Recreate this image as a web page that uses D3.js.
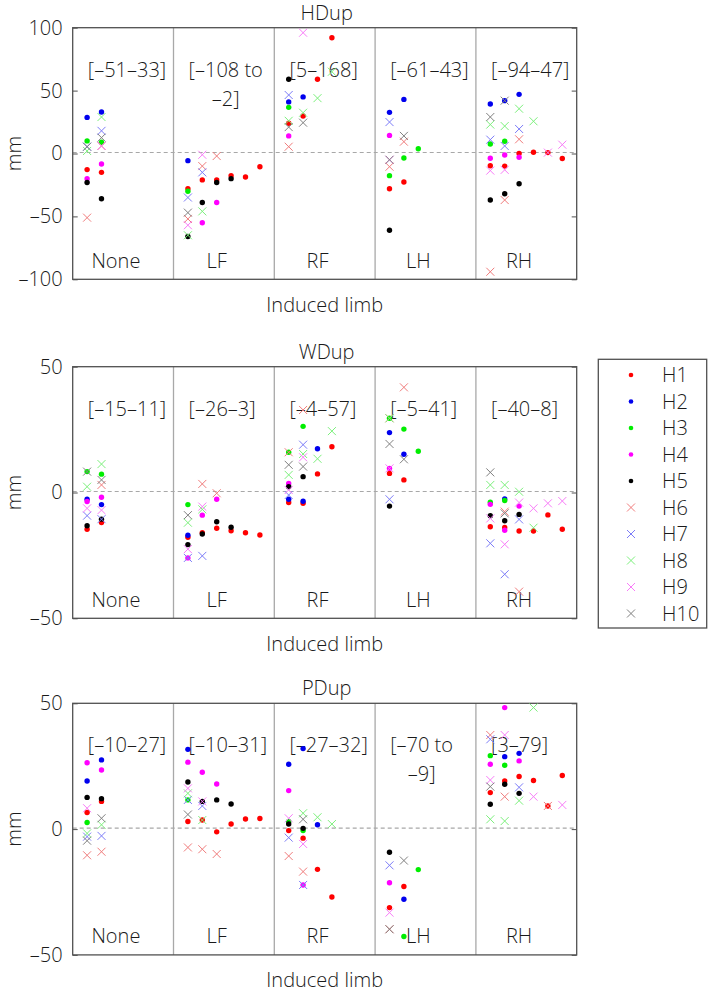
<!DOCTYPE html>
<html><head><meta charset="utf-8">
<script src="https://cdn.jsdelivr.net/npm/d3@7"></script>
<style>body{margin:0;background:#fff} text{font-family:"Open Sans",sans-serif;font-weight:300;fill:#1a1a1a}</style>
</head><body><svg id="c" width="709" height="995"></svg>
<script>
const groups = ["None","LF","RF","LH","RH"];
const horses = ["H1","H2","H3","H4","H5","H6","H7","H8","H9","H10"];
const horseColors = ["#ff0000","#0000ee","#00ee00","#ff00ff","#000000","#f07c7c","#7c7cf8","#7cf07c","#f87cf8","#808080"];
const horseShapes = ["dot","dot","dot","dot","dot","cross","cross","cross","cross","cross"];
const hdupTicks = [-100,-50,0,50,100];
const dupTicks = [-50,0,50];
const hdupRanges = ["[–51–33]","[–108 to\n–2]","[5–168]","[–61–43]","[–94–47]"];
const wdupRanges = ["[–15–11]","[–26–3]","[–4–57]","[–5–41]","[–40–8]"];
const pdupRanges = ["[–10–27]","[–10–31]","[–27–32]","[–70 to\n–9]","[3–79]"];

// rows: [horse, induced limb, trial slot, value in mm]
const hdupData = [
["H1","None",1,-12.8],["H1","None",2,-15],["H1","LF",1,-28],["H1","LF",2,-21],["H1","LF",3,-21],["H1","LF",4,-17.6],["H1","LF",5,-18.7],["H1","LF",6,-10.5],["H1","RF",1,24],["H1","RF",2,29.8],["H1","RF",3,59],["H1","RF",4,92],["H1","LH",1,-28],["H1","LH",2,-22.6],["H1","RH",1,-9.7],["H1","RH",2,-10],["H1","RH",3,0],["H1","RH",4,1],["H1","RH",5,0.7],["H1","RH",6,-4],
["H2","None",1,28.7],["H2","None",2,33],["H2","LF",1,-5.7],["H2","RF",1,41],["H2","RF",2,45],["H2","LH",1,32.7],["H2","LH",2,43],["H2","RH",1,39.3],["H2","RH",2,42],["H2","RH",3,47],
["H3","None",1,10],["H3","None",2,9],["H3","LF",1,-30],["H3","RF",1,36.7],["H3","LH",1,-17.6],["H3","LH",2,-3.6],["H3","LH",3,3.8],["H3","RH",1,7.5],["H3","RH",2,9.7],
["H4","None",1,-20],["H4","None",2,-8.3],["H4","LF",2,-55],["H4","LF",3,-39],["H4","RF",1,14],["H4","LH",1,14.4],["H4","RH",1,-3.8],["H4","RH",2,-1.2],["H4","RH",3,-3],
["H5","None",1,-23],["H5","None",2,-36],["H5","LF",1,-66],["H5","LF",2,-39],["H5","LF",3,-23],["H5","LF",4,-20],["H5","RF",1,59],["H5","LH",1,-61],["H5","RH",1,-37],["H5","RH",2,-32],["H5","RH",3,-24],
["H6","None",1,-51],["H6","None",2,6],["H6","LF",1,-52],["H6","LF",2,-10],["H6","LF",3,-2],["H6","RF",1,5.4],["H6","LH",1,-10.5],["H6","LH",2,9.4],["H6","RH",1,-94],["H6","RH",2,-37],["H6","RH",3,11.3],
["H7","None",1,5.4],["H7","None",2,18],["H7","LF",1,-35],["H7","LF",2,-15],["H7","RF",1,46.5],["H7","LH",1,25],["H7","RH",1,11],["H7","RH",2,6],["H7","RH",3,19.5],
["H8","None",1,2],["H8","None",2,29],["H8","LF",1,-65],["H8","LF",2,-46],["H8","RF",1,26],["H8","RF",2,32.4],["H8","RF",3,44],["H8","RF",4,65],["H8","RH",1,23],["H8","RH",2,21.8],["H8","RH",3,35.6],["H8","RH",4,25.6],
["H9","None",2,6],["H9","LF",1,-57],["H9","LF",2,-1],["H9","RF",2,96],["H9","LH",1,-5],["H9","RH",1,-13.6],["H9","RH",2,-13],["H9","RH",5,0.7],["H9","RH",6,7],
["H10","None",1,5.4],["H10","None",2,12.6],["H10","LF",1,-47],["H10","RF",1,21],["H10","RF",2,24.5],["H10","LH",1,-5],["H10","LH",2,14],["H10","RH",1,29],["H10","RH",2,42]
];
const wdupData = [
["H1","None",1,-14.6],["H1","None",2,-11.9],["H1","LF",1,-17.8],["H1","LF",2,-16],["H1","LF",3,-14.2],["H1","LF",4,-15.2],["H1","LF",5,-16],["H1","LF",6,-16.9],["H1","RF",1,-4],["H1","RF",2,-4.3],["H1","RF",3,7.4],["H1","RF",4,18.2],["H1","LH",1,7.6],["H1","LH",2,5],["H1","RH",1,-13.6],["H1","RH",2,-13.9],["H1","RH",3,-15.3],["H1","RH",4,-15.3],["H1","RH",5,-8.9],["H1","RH",6,-14.6],
["H2","None",1,-2.7],["H2","None",2,-4.8],["H2","LF",1,-17],["H2","RF",1,-2.7],["H2","RF",2,-3.5],["H2","RF",3,17.4],["H2","LH",1,23.8],["H2","LH",2,15.2],["H2","RH",2,-2.6],
["H3","None",1,8.3],["H3","None",2,7.3],["H3","LF",1,-4.8],["H3","RF",1,16],["H3","RF",2,26.3],["H3","LH",1,29.5],["H3","LH",2,25.2],["H3","LH",3,16.4],["H3","RH",1,-3.9],["H3","RH",2,-3.2],
["H4","None",1,-3.6],["H4","None",2,-1.9],["H4","LF",1,-26],["H4","LF",2,-9],["H4","LF",3,-2.7],["H4","RF",1,3.6],["H4","LH",1,9.6],["H4","RH",1,-4.7],["H4","RH",2,-15],["H4","RH",3,-5.4],
["H5","None",1,-13.2],["H5","None",2,-10.6],["H5","LF",1,-20.7],["H5","LF",2,-16.5],["H5","LF",3,-11.6],["H5","LF",4,-13.8],["H5","RF",1,2.3],["H5","RF",2,6.3],["H5","LH",1,-5.4],["H5","RH",1,-9.2],["H5","RH",2,-11.2],["H5","RH",3,-8.7],
["H6","None",2,3],["H6","LF",2,3.4],["H6","LF",3,-0.3],["H6","RF",1,16],["H6","RF",2,32.8],["H6","LH",1,29.5],["H6","LH",2,41.8],["H6","RH",2,-7.6],["H6","RH",3,-39.4],
["H7","None",1,-9.2],["H7","None",2,-10.6],["H7","LF",1,-26],["H7","LF",2,-25.2],["H7","RF",1,-1],["H7","RF",2,19],["H7","LH",1,-2.7],["H7","RH",1,-20.2],["H7","RH",2,-32.5],["H7","RH",3,-10.7],
["H8","None",1,2.3],["H8","None",2,11.3],["H8","LF",1,-12],["H8","LF",2,-6.7],["H8","RF",1,7],["H8","RF",2,15.3],["H8","RF",3,13.4],["H8","RF",4,24.4],["H8","LH",1,29.5],["H8","RH",1,3],["H8","RH",2,3],["H8","RH",3,0.3],["H8","RH",4,-14],
["H9","None",1,-6.3],["H9","None",2,-7],["H9","LF",1,-22.5],["H9","LF",2,-5.6],["H9","RF",1,1],["H9","RF",2,14],["H9","LH",1,9.6],["H9","RH",1,-10.3],["H9","RH",2,-20.6],["H9","RH",3,-4],["H9","RH",4,-6.3],["H9","RH",5,-4.3],["H9","RH",6,-3.4],
["H10","None",1,8.3],["H10","None",2,5],["H10","LF",1,-9],["H10","RF",1,11],["H10","RF",2,10.3],["H10","LH",1,19.3],["H10","LH",2,13.2],["H10","RH",1,8],["H10","RH",2,-8.3]
];
const pdupData = [
["H1","None",1,6.6],["H1","None",2,11],["H1","LF",1,3],["H1","LF",2,3.6],["H1","LF",3,-1.1],["H1","LF",4,2],["H1","LF",5,4],["H1","LF",6,4.2],["H1","RF",1,-0.6],["H1","RF",2,-3.6],["H1","RF",3,-16],["H1","RF",4,-27],["H1","LH",1,-31.2],["H1","LH",2,-22.8],["H1","RH",1,14.5],["H1","RH",2,19.1],["H1","RH",3,20.9],["H1","RH",4,19.3],["H1","RH",5,9.2],["H1","RH",6,21.3],
["H2","None",1,19.1],["H2","None",2,27.5],["H2","LF",1,31.7],["H2","RF",1,25.8],["H2","RF",2,32],["H2","RF",3,1.7],["H2","LH",2,-27.9],["H2","RH",2,28.8],["H2","RH",3,30.1],
["H3","None",1,2.6],["H3","LF",1,11.6],["H3","RF",1,3],["H3","RF",2,-0.6],["H3","LH",2,-42.7],["H3","LH",3,-16.1],["H3","RH",1,29.2],["H3","RH",2,25.4],
["H4","None",1,26.4],["H4","None",2,23.5],["H4","LF",1,26.6],["H4","LF",2,22.6],["H4","LF",3,17.9],["H4","RF",1,15.3],["H4","RF",2,-22.2],["H4","LH",1,-21.3],["H4","RH",1,25.8],["H4","RH",2,48.3],["H4","RH",3,27.1],
["H5","None",1,12.6],["H5","None",2,12.1],["H5","LF",1,18.7],["H5","LF",2,11],["H5","LF",3,11.6],["H5","LF",4,10],["H5","RF",1,2],["H5","RF",2,0.3],["H5","LH",1,-9.2],["H5","RH",1,9.9],["H5","RH",2,17.8],["H5","RH",3,14.2],
["H6","None",1,-10.4],["H6","None",2,-9],["H6","LF",1,-7.3],["H6","LF",2,-8],["H6","LF",3,-9.9],["H6","RF",1,-10.7],["H6","RF",2,-16.9],["H6","LH",1,-39.8],["H6","RH",1,37.4],["H6","RH",2,12.9],["H6","RH",5,9.2],
["H7","None",1,-3],["H7","None",2,-2.7],["H7","LF",1,11.6],["H7","LF",2,9.2],["H7","RF",1,-3.4],["H7","RF",2,-22.2],["H7","LH",1,-14.4],["H7","RH",1,35.7],["H7","RH",3,16.6],
["H8","None",1,-1.7],["H8","None",2,1.7],["H8","LF",1,14.2],["H8","LF",2,3.6],["H8","RF",2,6.3],["H8","RF",3,4.7],["H8","RF",4,2],["H8","RH",1,3.9],["H8","RH",2,3.2],["H8","RH",3,11.3],["H8","RH",4,48.3],
["H9","None",1,8.3],["H9","LF",1,16.2],["H9","LF",2,11],["H9","RF",1,4.3],["H9","RF",2,-5.9],["H9","LH",1,-33.2],["H9","RH",1,19.5],["H9","RH",2,37.4],["H9","RH",4,12.9],["H9","RH",6,9.6],
["H10","None",1,-4.6],["H10","None",2,4.3],["H10","LF",1,5.8],["H10","RF",2,3.9],["H10","LH",1,-39.8],["H10","LH",2,-12.5],["H10","RH",1,16.9]
];

const svg = d3.select("#c");
const FS = 20;
const left = 72.7, right = 576.7, ph = 251.6;
const slots = 7;
const x = d3.scaleLinear().domain([0, groups.length*slots]).range([left, right]);
const frameColor = "#505050", divColor = "#a8a8a8";

const panels = [
  {title:"HDup", top:27.7, domain:[-100,100], ticks:hdupTicks, data:hdupData, ranges:hdupRanges},
  {title:"WDup", top:366.7, domain:[-50,50], ticks:dupTicks, data:wdupData, ranges:wdupRanges},
  {title:"PDup", top:703.3, domain:[-50,50], ticks:dupTicks, data:pdupData, ranges:pdupRanges}
];

function drawMarker(sel, shape, color, cx, cy, r){
  if(shape==="dot"){
    sel.append("circle").attr("cx",cx).attr("cy",cy).attr("r",r||2.7).attr("fill",color);
  } else {
    const s=4;
    sel.append("path").attr("d",`M${cx-s},${cy-s}L${cx+s},${cy+s}M${cx-s},${cy+s}L${cx+s},${cy-s}`)
      .attr("stroke",color).attr("stroke-width",1).attr("fill","none");
  }
}

panels.forEach(p=>{
  const y = d3.scaleLinear().domain(p.domain).range([p.top+ph, p.top]);
  const g = svg.append("g");
  g.append("line").attr("x1",left).attr("x2",right).attr("y1",y(0)-1).attr("y2",y(0)-1)
    .attr("stroke","#a8a8a8").attr("stroke-width",1.2).attr("stroke-dasharray","4,3");
  for(let i=1;i<groups.length;i++){
    g.append("line").attr("x1",x(i*slots)).attr("x2",x(i*slots)).attr("y1",p.top).attr("y2",p.top+ph)
      .attr("stroke",divColor).attr("stroke-width",1.3);
  }
  const yl = d3.axisLeft(y).tickValues(p.ticks).tickSize(0).tickPadding(10).tickFormat(d=>d<0?"–"+Math.abs(d):d);
  const ya = g.append("g").attr("transform",`translate(${left},0)`).call(yl);
  ya.select(".domain").remove();
  ya.selectAll("text").attr("font-size",FS).attr("font-family","Open Sans").attr("font-weight",300).attr("fill","#1a1a1a");
  const yr = d3.axisLeft(y).tickValues(p.ticks).tickSize(5).tickFormat("");
  const yra = g.append("g").attr("transform",`translate(${right},0)`).call(yr);
  yra.select(".domain").remove();
  yra.selectAll("line").attr("stroke",frameColor);
  const yli = d3.axisRight(y).tickValues(p.ticks).tickSize(5).tickFormat("");
  const ylia = g.append("g").attr("transform",`translate(${left},0)`).call(yli);
  ylia.select(".domain").remove();
  ylia.selectAll("line").attr("stroke",frameColor);
  g.append("rect").attr("x",left).attr("y",p.top).attr("width",right-left).attr("height",ph)
    .attr("fill","none").attr("stroke",frameColor).attr("stroke-width",1.3);
  g.append("text").attr("x",(left+right)/2+2).attr("y",p.top-8).attr("text-anchor","middle").attr("font-size",FS).text(p.title);
  g.append("text").attr("x",(left+right)/2).attr("y",p.top+ph+32.5).attr("text-anchor","middle").attr("font-size",FS).text("Induced limb");
  g.append("text").attr("transform",`translate(20.5,${p.top+ph/2}) rotate(-90)`).attr("text-anchor","middle").attr("font-size",FS).text("mm");
  groups.forEach((gr,i)=>{
    g.append("text").attr("x",x(i*slots+3)).attr("y",p.top+ph-11.5).attr("text-anchor","middle").attr("font-size",FS).text(gr);
    const lines = p.ranges[i].split("\n");
    const x0 = x(i*slots+1.05);
    let w0 = 0;
    lines.forEach((ln,k)=>{
      const t = g.append("text").attr("y",p.top+49+k*29).attr("font-size",FS).text(ln);
      const w = t.node().getComputedTextLength();
      if(k===0){ w0=w; t.attr("x",x0); }
      else t.attr("x", x0+(w0-w)/2);
    });
  });
  const rows = p.data.slice().sort((a,b)=>horses.indexOf(a[0])-horses.indexOf(b[0]));
  const pg = g.append("g");
  rows.forEach(r=>{
    const hi = horses.indexOf(r[0]);
    const gi = groups.indexOf(r[1]);
    drawMarker(pg, horseShapes[hi], horseColors[hi], x(gi*slots+r[2]), y(r[3]));
  });
});

const lg = svg.append("g");
const lx = 598.3, ly = 359.3, lw = 108.4, lh = 268.7, rowH = 26.5;
lg.append("rect").attr("x",lx).attr("y",ly).attr("width",lw).attr("height",lh).attr("fill","#fff").attr("stroke",frameColor).attr("stroke-width",1.3);
horses.forEach((h,i)=>{
  const cy = ly+15.7+i*rowH;
  drawMarker(lg, horseShapes[i], horseColors[i], lx+32.7, cy, 2.3);
  lg.append("text").attr("x",lx+63.8).attr("y",cy+7.2).attr("font-size",FS).text(h);
});
</script></body></html>
